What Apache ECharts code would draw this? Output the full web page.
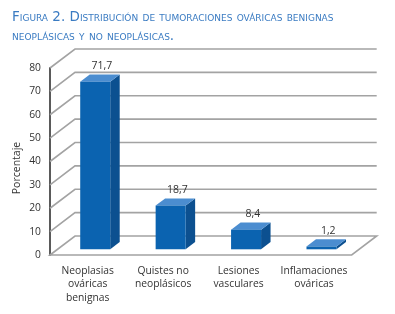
<!DOCTYPE html>
<html><head><meta charset="utf-8">
<script src="https://cdn.jsdelivr.net/npm/echarts@6/dist/echarts.min.js"></script>
<style>html,body{margin:0;padding:0;background:#fff}#c{width:395px;height:314px}</style>
</head><body><div id="c"></div>
<script>
const titleLines = ['Figura 2. Distribución de tumoraciones ováricas benignas', 'neoplásicas y no neoplásicas.'];
const categories = ['Neoplasias\nováricas\nbenignas', 'Quistes no\nneoplásicos', 'Lesiones\nvasculares', 'Inflamaciones\nováricas'];
const values = [71.7, 18.7, 8.4, 1.2];
const valueLabels = ['71,7', '18,7', '8,4', '1,2'];
const yTicks = [0, 10, 20, 30, 40, 50, 60, 70, 80];
const yName = 'Porcentaje';

const D = [25, -19];      // depth of the floor / walls
const OFF = [7.5, -5.7];  // bar placement inside depth
const BD = [9.5, -7.2];   // bar depth
const BW = 30;

const chart = echarts.init(document.getElementById('c'), null, {renderer: 'canvas'});
const FONT = 'Open Sans';
chart.setOption({
  animation: false,
  title: {
    text: titleLines.join('\n'),
    left: 7, top: 3,
    textStyle: {fontStyle: 'small-caps', fontSize: 13.5, fontWeight: 'normal', color: '#3a7bc2', fontFamily: 'DejaVu Sans', lineHeight: 19}
  },
  graphic: [{
    type: 'text', x: 17.5, y: 168, rotation: Math.PI / 2,
    style: {text: yName, fontSize: 10.5, fill: '#333', fontFamily: FONT, align: 'center', verticalAlign: 'middle'}
  }],
  grid: {left: 50, top: 68, right: 43.3, bottom: 59},
  xAxis: {
    type: 'category', data: categories,
    axisLine: {show: false}, axisTick: {show: false},
    axisLabel: {fontSize: 10.3, lineHeight: 13.5, color: '#333', margin: 9, fontFamily: FONT, interval: 0}
  },
  yAxis: {
    type: 'value', min: 0, max: 80, interval: 10,
    axisLine: {show: true, lineStyle: {color: '#5a5a5a', width: 2}},
    axisTick: {show: false}, splitLine: {show: false},
    axisLabel: {fontSize: 10.3, color: '#333', margin: 9, fontFamily: FONT}
  },
  series: [
    {
      type: 'custom', z: 1, silent: true,
      data: yTicks.map(t => [0, t]),
      renderItem: function (params, api) {
        const cs = params.coordSys;
        const y = api.coord([0, api.value(1)])[1];
        const x0 = cs.x, x1 = cs.x + cs.width;
        const st = {stroke: '#a3a3a3', lineWidth: 1.6, fill: null};
        if (api.value(1) === 0) {
          return {type: 'polygon', shape: {points: [[x0, y], [x0 + D[0], y + D[1]], [x1 + D[0], y + D[1]], [x1, y]]},
            style: {stroke: '#a3a3a3', lineWidth: 1.6, fill: '#fff'}};
        }
        return {type: 'polyline', shape: {points: [[x0, y], [x0 + D[0], y + D[1]], [x1 + D[0], y + D[1]]]}, style: st};
      }
    },
    {
      type: 'custom', z: 3,
      data: values.map((v, i) => [i, v]),
      renderItem: function (params, api) {
        const i = api.value(0), v = api.value(1);
        const p = api.coord([i, v]), p0 = api.coord([i, 0]);
        const cx = p[0] + OFF[0];
        const top = p[1] + OFF[1], bot = p0[1] + OFF[1];
        const l = cx - BW / 2, r = cx + BW / 2;
        return {
          type: 'group',
          children: [
            {type: 'polygon', shape: {points: [[r, top], [r + BD[0], top + BD[1]], [r + BD[0], bot + BD[1]], [r, bot]]}, style: {fill: '#0c5090'}},
            {type: 'polygon', shape: {points: [[l, top], [l + BD[0], top + BD[1]], [r + BD[0], top + BD[1]], [r, top]]}, style: {fill: '#4b8dd0'}},
            {type: 'rect', shape: {x: l, y: top, width: BW, height: bot - top}, style: {fill: '#0b63b0'}},
            {type: 'text', x: cx + BD[0] / 2 + 2, y: top + BD[1] - 3,
              style: {text: valueLabels[params.dataIndex], fill: '#333', fontSize: 10.5, fontFamily: FONT, align: 'center', verticalAlign: 'bottom'}}
          ]
        };
      }
    }
  ]
});
</script></body></html>
